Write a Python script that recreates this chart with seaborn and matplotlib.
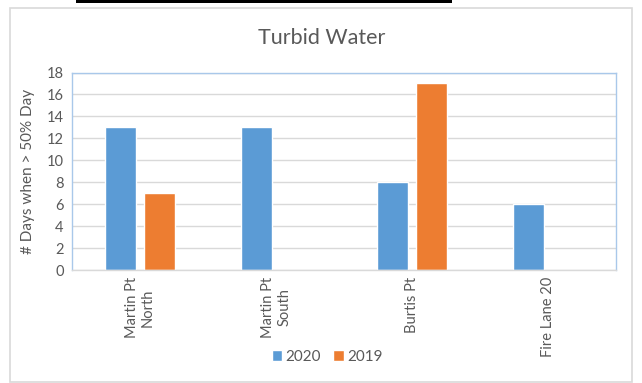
import matplotlib
matplotlib.use("Agg")
import matplotlib.pyplot as plt
from matplotlib.patches import Rectangle
import seaborn as sns
import pandas as pd

# Data
sites = ["Martin Pt\nNorth", "Martin Pt\nSouth", "Burtis Pt", "Fire Lane 20"]
years = ["2020", "2019"]
days_2020 = [13, 13, 8, 6]
days_2019 = [7, 0, 17, 0]
y_ticks = list(range(0, 19, 2))

df = pd.DataFrame({
    "site": sites * 2,
    "year": [years[0]] * len(sites) + [years[1]] * len(sites),
    "days": days_2020 + days_2019,
})

sns.set_theme(style="white")
plt.rcParams["font.family"] = ["Lato", "DejaVu Sans"]
text_col = "#595959"

W, H = 642, 383
fig = plt.figure(figsize=(W / 100, H / 100), dpi=100)
fig.patch.set_facecolor("white")

# outer chart frame and the dark strip along the top edge
fig.patches.append(Rectangle((10 / W, 1 - 382 / H), 622 / W, 374 / H,
                             transform=fig.transFigure, fill=False,
                             edgecolor="#d9d9d9", linewidth=1.2))
fig.patches.append(Rectangle((76 / W, 1 - 3 / H), 376 / W, 3 / H,
                             transform=fig.transFigure, facecolor="black",
                             edgecolor="none"))

ax = fig.add_axes([72 / W, 1 - 270 / H, 544 / W, (270 - 72.5) / H])
sns.barplot(data=df, x="site", y="days", hue="year", order=sites,
            hue_order=years, palette=["#5B9BD5", "#ED7D31"],
            width=0.574, gap=0.23, saturation=1, ax=ax, legend=True)

ax.set_ylim(0, 18)
ax.set_yticks(y_ticks)
ax.set_xlim(-0.5, len(sites) - 0.5)
ax.yaxis.grid(True, color="#d9d9d9", linewidth=1)
ax.set_axisbelow(True)
ax.tick_params(axis="both", length=0, colors=text_col, labelsize=10.5)
ax.tick_params(axis="x", pad=5)
ax.tick_params(axis="y", pad=6)
for lbl in ax.get_xticklabels():
    lbl.set_rotation(90)
    lbl.set_ha("center")
    lbl.set_va("top")
    lbl.set_multialignment("center")

for side in ["left", "top", "right"]:
    ax.spines[side].set_color("#a9c8ea")
    ax.spines[side].set_linewidth(1)
ax.spines["bottom"].set_color("#d9d9d9")
ax.spines["bottom"].set_linewidth(1)

ax.set_xlabel("")
ax.set_ylabel("# Days when > 50% Day", color=text_col, fontsize=11)
ax.yaxis.set_label_coords(-0.068, 0.5)

fig.text(322 / W, 1 - 38 / H, "Turbid Water", ha="center", va="center",
         fontsize=15.5, color=text_col)

handles, labels = ax.get_legend_handles_labels()
ax.legend_.remove()
fig.legend(handles, labels, loc="center", bbox_to_anchor=(327 / W, 1 - 357 / H),
           ncol=2, frameon=False, fontsize=11, labelcolor=text_col,
           handlelength=0.7, handleheight=0.7, handletextpad=0.2,
           columnspacing=0.8)

fig.savefig("out.png", dpi=100, facecolor="white")
